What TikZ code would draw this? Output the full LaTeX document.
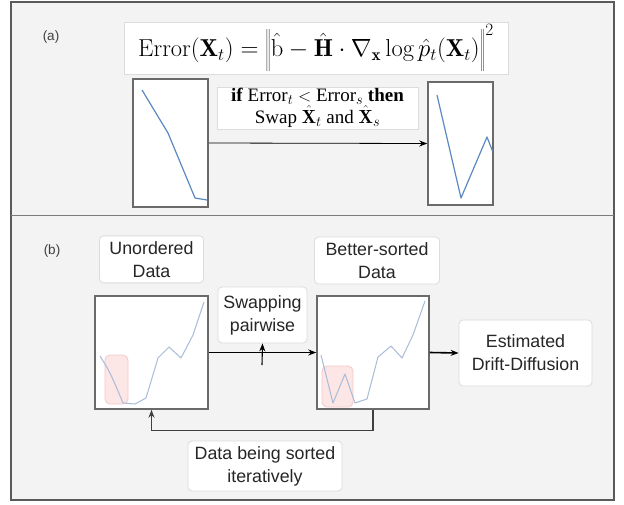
\documentclass[tikz,border=0pt]{standalone}
\usepackage{fontspec}
\newfontfamily\arialfont{Liberation Sans}
\newfontfamily\timesfont{Liberation Serif}
\usetikzlibrary{arrows.meta, positioning}
\definecolor{bggray}{HTML}{F3F3F3}
\definecolor{framegray}{HTML}{5A5A5A}
\definecolor{plotgray}{HTML}{6A6A6A}
\definecolor{boxgray}{HTML}{DCDCDC}
\definecolor{curveblue}{HTML}{5C88C2}
\definecolor{curvepale}{HTML}{A8BCD8}
\definecolor{pinkfill}{HTML}{FCE6E6}
\definecolor{pinkline}{HTML}{F5C8C8}

\begin{document}
\begin{tikzpicture}[x=1pt, y=-1pt,
    plotbox/.style={draw=plotgray, line width=1.5pt, fill=white, inner sep=0pt},
    mathbox/.style={draw=boxgray, line width=0.8pt, fill=white, inner sep=0pt, align=center},
    labelbox/.style={draw=boxgray, line width=0.8pt, fill=white, rounded corners=4pt, inner sep=0pt,
        align=center, font=\arialfont\fontsize{17.8}{23}\selectfont, text=black!85},
    panel/.style={font=\arialfont\fontsize{13.5}{15}\selectfont, text=black!75},
    arrow/.style={-{Stealth[length=8pt, width=6pt]}, line width=1.1pt},
    curveA/.style={curveblue, line width=1.2pt, line join=round},
    curveB/.style={curvepale, line width=1pt, line join=round},
    swaprect/.style={draw=pinkline, fill=pinkfill, line width=0.8pt, rounded corners=5pt}
]
    \useasboundingbox[fill=white] (0,0) rectangle (624,504);
    \draw[framegray, line width=1.2pt, fill=bggray] (11,2) rectangle (614,500);
    \draw[framegray!80, line width=1pt] (11,215) -- (614,215);

    % (a) swap rule
    \node[panel] (lblA) at (51,37) {(a)};
    \node[mathbox, minimum width=384pt, minimum height=52pt] (eq) at (316,48)
        {\fontsize{24.5}{28}\selectfont
         $\mathrm{Error}(\mathbf{X}_t) = \left\|\rule[-12pt]{0pt}{39pt}\hat{\mathrm{b}} - \hat{\mathbf{H}} \cdot \nabla_{\mathbf{x}} \log \hat{p}_t(\mathbf{X}_t)\right\|^2$};
    \node[plotbox, minimum width=75pt, minimum height=128pt] (lplotA) at (170.5,143) {};
    \node[plotbox, minimum width=65pt, minimum height=123pt] (rplotA) at (460.5,143.5) {};
    \node[mathbox, minimum width=201pt, minimum height=42pt] (rule) at (317.5,108)
        {\timesfont\fontsize{19}{22}\selectfont \textbf{if} Error$_t$ $<$ Error$_s$ \textbf{then}\\
         \timesfont\fontsize{19}{22}\selectfont Swap $\hat{\mathbf{X}}_t$ and $\hat{\mathbf{X}}_s$};
    \draw[curveA] (142,90) -- (168,133) -- (195,198) -- (207,200);
    \draw[curveA] (437,95) -- (461,198) -- (487,137) -- (492.5,151);
    \draw[-{Stealth[length=8pt, width=6pt]}, line width=0.8pt] (lplotA.east) -- (rplotA.west);

    % (b) iterative sorting
    \node[panel] (lblB) at (52,251) {(b)};
    \node[plotbox, minimum width=113pt, minimum height=113pt] (uplot) at (151.5,352.5) {};
    \node[plotbox, minimum width=112pt, minimum height=113pt] (splot) at (373,352.5) {};
    \node[labelbox, minimum width=104pt, minimum height=47pt, above=12pt of uplot] (unord) {Unordered\\Data};
    \node[labelbox, minimum width=125pt, minimum height=47pt] (better) at (377,260.5) {Better-sorted\\Data};
    \node[labelbox, minimum width=89pt, minimum height=56pt] (swap) at (262.5,315) {Swapping\\pairwise};
    \node[labelbox, minimum width=133pt, minimum height=66pt] (est) at (525.5,353) {Estimated\\Drift-Diffusion};
    \node[labelbox, minimum width=154pt, minimum height=50pt] (iter) at (265,466) {Data being sorted\\iteratively};

    \draw[swaprect] (105,355) rectangle (128,404);
    \draw[curveB] (100,356) .. controls (110,372) .. (123,403) -- (135,404) -- (146,398)
        -- (158,358) -- (169,347) -- (181,358) -- (193,335) -- (204,302);
    \draw[swaprect] (322,366) rectangle (353,407);
    \draw[curveB] (321,355) -- (333,403) -- (345,374) -- (355,403) -- (367,399)
        -- (378,357) -- (391,346) -- (402,358) -- (413,335) -- (425,301);

    \draw[arrow] (uplot.east) -- (splot.west);
    \coordinate (swaptail) at (262,365);
    \draw[arrow] (swaptail) -- (swap.south);
    \draw[arrow, line width=1.6pt] (splot.east) -- (est.west);
    \draw[arrow, draw=black!75] (splot.south) -- ++(0,21) -| (uplot.south);
\end{tikzpicture}
\end{document}
